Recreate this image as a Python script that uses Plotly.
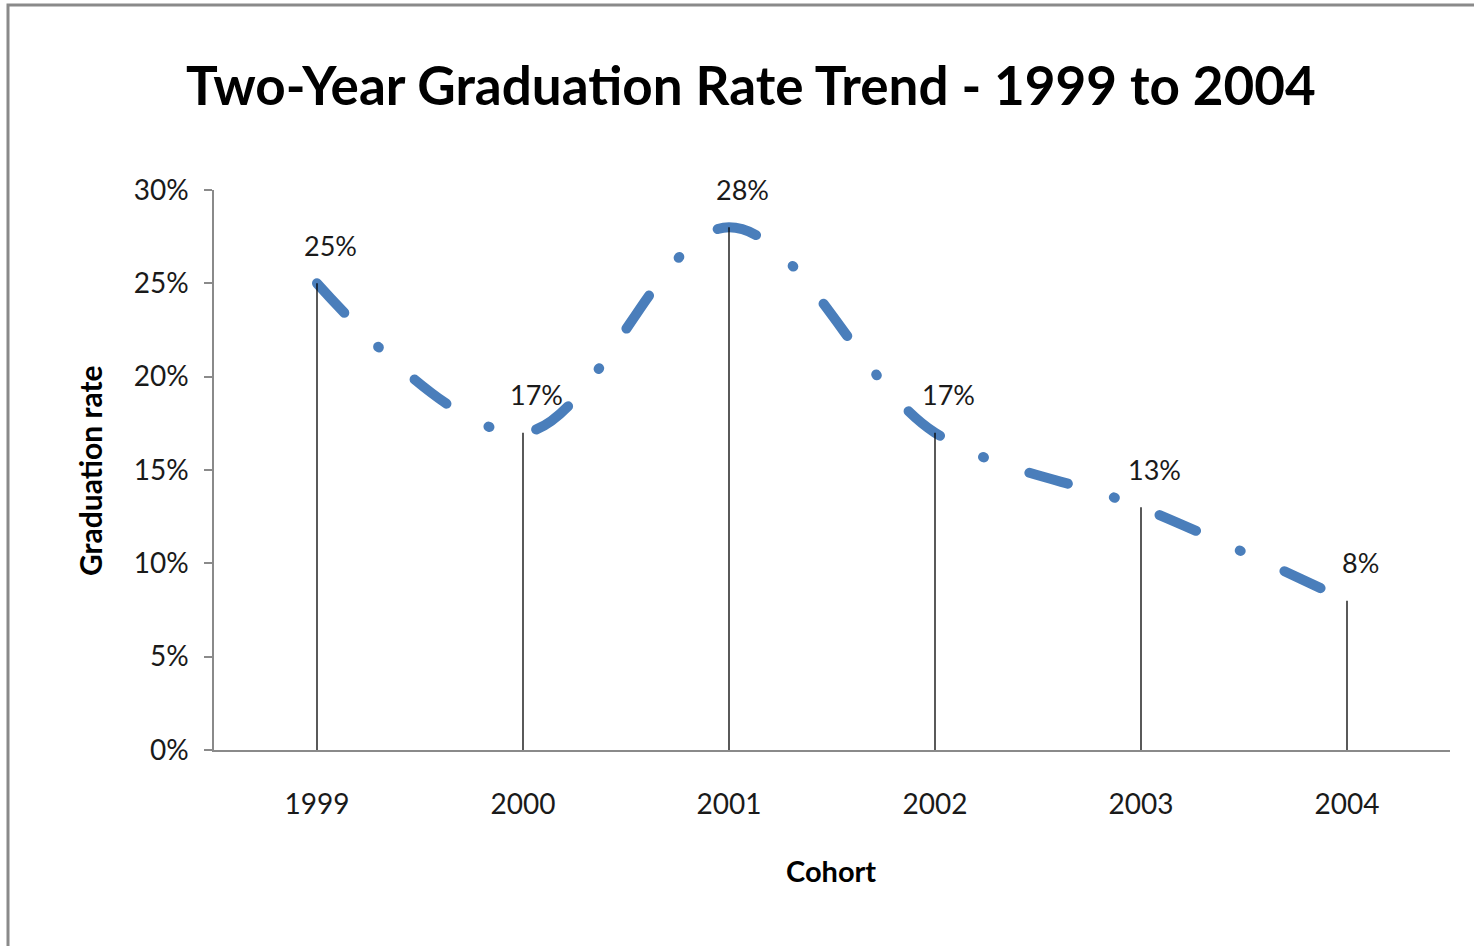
import plotly.graph_objects as go

# ---- data ----
cohorts = ["1999", "2000", "2001", "2002", "2003", "2004"]
grad_rate = [0.25, 0.17, 0.28, 0.17, 0.13, 0.08]
label_text = ["25%", "17%", "28%", "17%", "13%", "8%"]
y_ticks = [0, 0.05, 0.10, 0.15, 0.20, 0.25, 0.30]

title_text = "Two-Year Graduation Rate Trend - 1999 to 2004"
x_title = "Cohort"
y_title = "Graduation rate"

W, H = 1474, 946
ML, MR, MT, MB = 214, 24, 190, 196
PW, PH = W - ML - MR, H - MT - MB


def px_x(p):
    return (p - ML) / PW


def px_y(p):
    return (H - MB - p) / PH


FONT = "Lato"
BLUE = "#4A7EBB"
TXT = "#1a1a1a"

fig = go.Figure()

# smoothed dash-dot line
fig.add_trace(go.Scatter(
    x=cohorts, y=grad_rate, mode="lines",
    line=dict(color=BLUE, width=10, shape="spline", smoothing=1.0,
              dash="40px,48px,1px,48px"),
    hoverinfo="skip", showlegend=False,
))

# drop lines to the axis
fig.add_trace(go.Scatter(
    x=cohorts, y=grad_rate, mode="markers",
    marker=dict(size=1, color="rgba(0,0,0,0)"),
    error_y=dict(type="data", symmetric=False, array=[0] * len(grad_rate),
                 arrayminus=grad_rate, width=0, thickness=1.3, color="black"),
    hoverinfo="skip", showlegend=False,
))

# data labels (category index positions)
for i, (v, t) in enumerate(zip(grad_rate, label_text)):
    fig.add_annotation(x=i, y=v, text=t, showarrow=False, xref="x", yref="y",
                       xshift=13, yshift=38,
                       font=dict(family=FONT, size=27, color=TXT))

# title
fig.add_annotation(text=title_text, xref="paper", yref="paper",
                   x=px_x(751), y=px_y(84), xanchor="center", yanchor="middle",
                   showarrow=False,
                   font=dict(family=FONT, size=53, color="black", weight="bold"))

# axis titles
fig.add_annotation(text=x_title, xref="paper", yref="paper",
                   x=px_x(831), y=px_y(870), xanchor="center", yanchor="middle",
                   showarrow=False,
                   font=dict(family=FONT, size=29, color="black", weight="bold"))
fig.add_annotation(text=y_title, xref="paper", yref="paper",
                   x=px_x(90), y=px_y(471), xanchor="center", yanchor="middle",
                   showarrow=False, textangle=-90,
                   font=dict(family=FONT, size=30, color="black", weight="bold"))

# outer chart frame
fig.add_shape(type="rect", xref="paper", yref="paper",
              x0=px_x(8), x1=px_x(1520), y0=px_y(5), y1=px_y(1000),
              line=dict(color="#8a8a8a", width=3), fillcolor="rgba(0,0,0,0)",
              layer="below")

fig.update_layout(
    width=W, height=H,
    margin=dict(l=ML, r=MR, t=MT, b=MB),
    paper_bgcolor="white", plot_bgcolor="white",
    showlegend=False,
    font=dict(family=FONT, size=27, color=TXT),
    xaxis=dict(type="category", range=[-0.5, 5.5], showgrid=False,
               zeroline=False, showline=True, linecolor="#8a8a8a", linewidth=1.5,
               ticks="", ticklabelstandoff=29,
               tickfont=dict(family=FONT, size=28, color=TXT)),
    yaxis=dict(range=[0, 0.30], tickvals=y_ticks, tickformat=".0%",
               showgrid=False, zeroline=False, showline=True,
               linecolor="#8a8a8a", linewidth=1.5,
               ticks="outside", ticklen=8, tickcolor="#8a8a8a", tickwidth=1.5,
               ticklabelstandoff=10,
               tickfont=dict(family=FONT, size=28, color=TXT)),
)

post = """
document.body.style.margin='0';
document.querySelectorAll('path.js-line').forEach(function(p){p.style.strokeLinecap='round';});
"""
fig.write_html("out.html", post_script=post, config={"displayModeBar": False})
